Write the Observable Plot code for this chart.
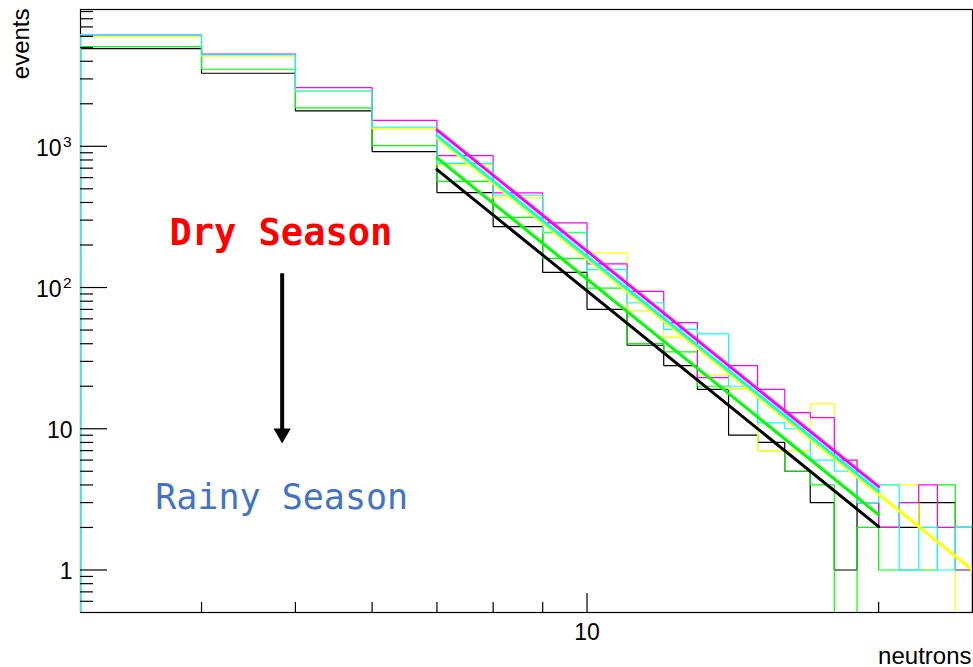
<!DOCTYPE html>
<html><head><meta charset="utf-8">
<script src="https://cdn.jsdelivr.net/npm/d3@7"></script>
<script src="https://cdn.jsdelivr.net/npm/@observablehq/plot@0.6"></script>
<style>body{margin:0;background:#fff} #chart{width:973px;height:667px}</style>
</head><body><div id="chart"></div>
<script>
// ---- data ----
const binEdges = [3,4,5,6,7,8,9,10,11,12,13,14,15,16,17,18,19,20,21,22,23,24,25];
const seriesNames = ["black","green","yellow","magenta","cyan"];
const seriesColors = ["#000000","#00ff00","#ffff00","#ff00ff","#00ffff"];
const blackCounts   = [4920,3290,1782,917,470,270,128,70,39,28,19,9,8,5,3,1,3,2,2,3,3,2];
const greenCounts   = [5080,3510,1871,1011,565,314,161,99,40,35,20,19,7,5,4,0,2,1,1,1,4,1];
const yellowCounts  = [5980,4340,2450,1327,741,431,243,176,68.5,44.4,24,19,7,7,15,6,3,4,4,2,2,0];
const magentaCounts = [6150,4500,2605,1528,859,468,287,147,94,56.5,23,28,19,13,12,6,3,2,3,4,2,1];
const cyanCounts    = [6180,4436,2466,1364,758,450,246,134,78,50.5,47,20,11,10,6,5,3,4,1,2,1,2];
// power-law fit endpoints (black, green, yellow, magenta, cyan)
const fitStartX = [7,7,7,7,7];
const fitEndX   = [20,20,25,20,20];
const fitStartY = [684,828,1147,1306,1191];
const fitEndY   = [2.03,2.46,1.0,3.89,3.6];
const fitOrder  = [0,1,2,4,3];
// axes
const xDomain = [3,25];
const yDomain = [0.5,9300];
const xMajorTicks = [10];
const xMinorTicks = [4,5,6,7,8,9,20];
const yMajorTicks = [1,10,100,1000];
const yMinorTicks = [0.6,0.7,0.8,0.9,2,3,4,5,6,7,8,9,20,30,40,50,60,70,80,90,200,300,400,500,600,700,800,900,2000,3000,4000,5000,6000,7000,8000,9000];
const yPlainLabels = [{v:1,t:"1"},{v:10,t:"10"}];
const yPowerLabels = [{v:100,e:"2"},{v:1000,e:"3"}];
// annotations
const notes = [
  {t:"Dry Season", x:4.83, y:241, color:"#ff0000", weight:"bold", size:37},
  {t:"Rainy Season", x:4.84, y:3.26, color:"#4472c4", weight:"normal", size:35}
];
const arrowX = 4.845, arrowTop = 126, arrowShaftEnd = 9.3, arrowTip = 7.87;

// ---- layout ----
const W = 973, H = 667, mL = 80, mR = 1, mT = 9, mB = 55;
const plotW = W - mL - mR, plotH = H - mT - mB;
const font = "'Liberation Sans', Arial, Helvetica, sans-serif";

const allCounts = [blackCounts, greenCounts, yellowCounts, magentaCounts, cyanCounts];
function stepPoints(arr){
  const lo = yDomain[0];
  const pts = [{x: binEdges[0], y: lo}];
  arr.forEach((v,i) => {
    const y = Math.max(v, lo);
    pts.push({x: binEdges[i], y});
    pts.push({x: binEdges[i+1], y});
  });
  pts.push({x: binEdges[binEdges.length-1], y: lo});
  return pts;
}

const marks = [Plot.frame({stroke:"#000", strokeWidth:1.2})];
allCounts.forEach((arr,s) => {
  marks.push(Plot.line(stepPoints(arr), {x:"x", y:"y", stroke: seriesColors[s], strokeWidth:1.2, strokeLinejoin:"miter", clip:true}));
});
fitOrder.forEach(s => {
  marks.push(Plot.line([{x:fitStartX[s], y:fitStartY[s]},{x:fitEndX[s], y:fitEndY[s]}],
    {x:"x", y:"y", stroke: seriesColors[s], strokeWidth:3, clip:true}));
});
// ticks (inward)
marks.push(Plot.ruleY(yMajorTicks, {y:d=>d, insetRight: plotW - 27, stroke:"#000", strokeWidth:1.2}));
marks.push(Plot.ruleY(yMinorTicks, {y:d=>d, insetRight: plotW - 13, stroke:"#000", strokeWidth:1.2}));
marks.push(Plot.ruleX(xMajorTicks, {x:d=>d, insetTop: plotH - 19, stroke:"#000", strokeWidth:1.2}));
marks.push(Plot.ruleX(xMinorTicks, {x:d=>d, insetTop: plotH - 10, stroke:"#000", strokeWidth:1.2}));
// tick labels
marks.push(Plot.text(yPlainLabels, {y:"v", text:"t", frameAnchor:"left", textAnchor:"end", dx:-8, dy:2, fontSize:23, fill:"#000", fontFamily:font}));
marks.push(Plot.text(yPowerLabels, {y:"v", text:()=>"10", frameAnchor:"left", textAnchor:"end", dx:-19, dy:2, fontSize:23, fill:"#000", fontFamily:font}));
marks.push(Plot.text(yPowerLabels, {y:"v", text:"e", frameAnchor:"left", textAnchor:"end", dx:-9, dy:-4, fontSize:15.5, fill:"#000", fontFamily:font}));
marks.push(Plot.text(xMajorTicks, {x:d=>d, text:d=>String(d), frameAnchor:"bottom", dy:27, fontSize:23, fill:"#000", fontFamily:font}));
// axis titles
marks.push(Plot.text(["neutrons"], {text:d=>d, frameAnchor:"bottom-right", textAnchor:"end", lineAnchor:"bottom", dx:-1, dy:51, fontSize:24, fill:"#000", fontFamily:font}));
marks.push(Plot.text(["events"], {text:d=>d, frameAnchor:"top-left", textAnchor:"end", lineAnchor:"bottom", rotate:-90, dx:-52, dy:-1, fontSize:24, fill:"#000", fontFamily:font}));
// annotations
notes.forEach(n => {
  marks.push(Plot.text([n], {x:"x", y:"y", text:"t", fill:n.color, fontWeight:n.weight, fontSize:n.size, fontFamily:"'DejaVu Sans Mono', 'Liberation Mono', monospace", textAnchor:"middle", lineAnchor:"middle"}));
});
marks.push(Plot.link([{x:arrowX, y1:arrowTop, y2:arrowShaftEnd}], {x1:"x", x2:"x", y1:"y1", y2:"y2", stroke:"#000", strokeWidth:4}));
marks.push(Plot.dot([{x:arrowX, y:arrowTip}], {x:"x", y:"y", symbol:"triangle", rotate:180, r:6.4, fill:"#000", stroke:"none", dy:-10}));

const chart = Plot.plot({
  width: W, height: H,
  marginLeft: mL, marginRight: mR, marginTop: mT, marginBottom: mB,
  style: {fontFamily: font, background: "#fff"},
  x: {type:"log", domain: xDomain, axis: null},
  y: {type:"log", domain: yDomain, axis: null},
  marks
});
document.getElementById("chart").appendChild(chart);
</script>
</body></html>
